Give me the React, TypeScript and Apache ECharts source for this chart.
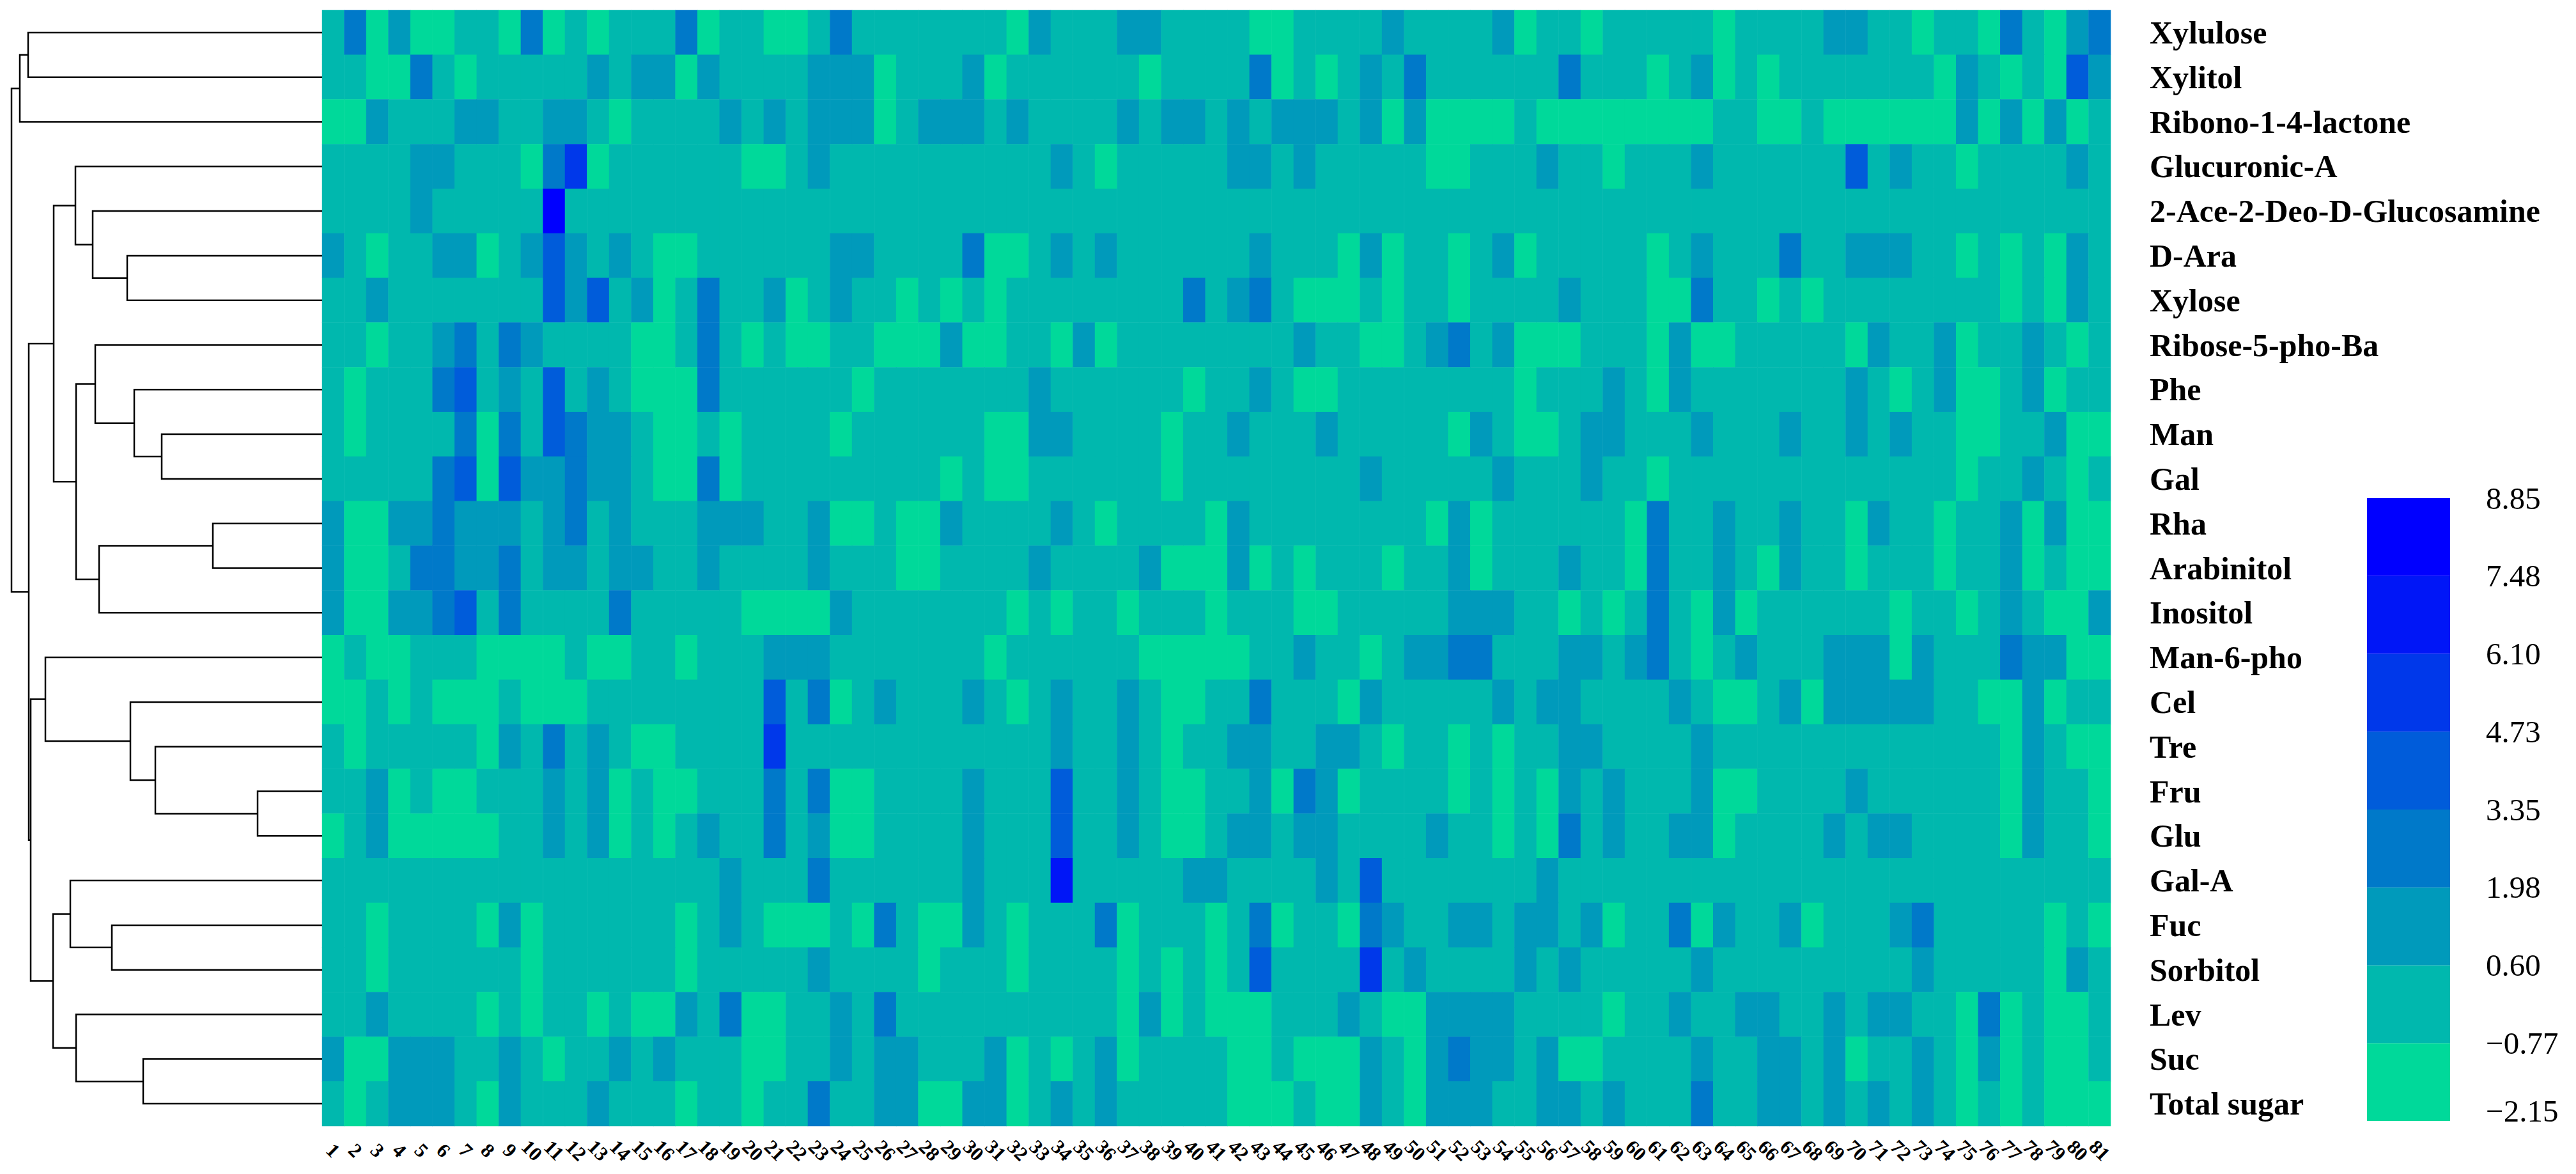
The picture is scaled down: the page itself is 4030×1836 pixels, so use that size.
import React, { useEffect, useRef } from "react";
import * as echarts from "echarts";

// Row names, top to bottom
const rowNames = [
  "Xylulose", "Xylitol", "Ribono-1-4-lactone", "Glucuronic-A", "2-Ace-2-Deo-D-Glucosamine",
  "D-Ara", "Xylose", "Ribose-5-pho-Ba", "Phe", "Man", "Gal", "Rha", "Arabinitol", "Inositol",
  "Man-6-pho", "Cel", "Tre", "Fru", "Glu", "Gal-A", "Fuc", "Sorbitol", "Lev", "Suc", "Total sugar",
];
const columnNames = Array.from({ length: 81 }, (_, i) => String(i + 1));

// Colour-scale edges as printed on the legend, low to high, and the colour of each band
const legendTicks = ["−2.15", "−0.77", "0.60", "1.98", "3.35", "4.73", "6.10", "7.48", "8.85"];
const binEdges = [-2.15, -0.77, 0.6, 1.98, 3.35, 4.73, 6.1, 7.48, 8.85];
const binColors = ["#00D99A", "#00B8AE", "#009ABB", "#0079C9", "#005CDA", "#0038EA", "#0016F7", "#0000FF"];

// Band for each cell: one string per row, columns 1-81
const cellBins = [
  "1302001103 0101113011 0013111111 1021112211 1100111121 1112011011 1110111122 1101103102 3",
  "1100310111 1121220211 1122201112 0111111011 1130101213 1111113111 0120101111 1110210104 2",
  "0021112211 2210111121 2122201222 1211112122 1212221202 0000100000 0001100100 0000202020 1",
  "1111221110 3501111110 0121111111 1112101111 1221211111 0011121101 1121111114 1211011112 1",
  "1111211111 7111111111 1111111111 1111111111 1111111111 1111111111 1111111111 1111111111 1",
  "2101122012 4212100111 1112211113 0012121111 1121110201 1012011111 0121113112 2211010102 1",
  "1121111111 4241201311 2012110101 0111111113 1231000101 1011112111 0031101011 1111110102 1",
  "1101123132 1111001310 1001100020 0110201111 1111211001 2312000111 0200111110 2112011210 1",
  "1011134121 4121000311 1111011111 1121111110 1121001111 1111011121 0211111112 1012001201 1",
  "1011113031 4322100101 1110111111 0022111101 1211121111 1021001221 1121112112 1211001120 0",
  "1111134042 2322100301 1111111101 0011111101 1111111211 1112111211 0111111111 1111011210 1",
  "2002232221 2312111222 1120010021 1112101111 0211111111 0201111110 3112112110 2110112020 0",
  "2001332231 2212211211 1121110011 1121111200 0201011101 1201112110 3112102110 1110112010 0",
  "2002234131 1113111110 0002111111 1010110111 0111001111 1222110101 3102011111 1011012100 2",
  "0100111000 0100110111 2221111111 0111111000 0011211012 2331112212 3101211122 2021113220 0",
  "0010100010 0011111111 4130121112 1012112100 1131110211 1112122111 1210012022 2221100201 1",
  "1011111021 3121001111 5111111111 1112112101 1221122101 1010112211 1121111111 1111110210 0",
  "1120100111 2120100111 3130011112 1114112100 1120320111 1010102121 1120011112 1111110211 0",
  "0120000011 2120101211 3120011112 1114112100 1221221111 2110103121 1220111121 2211110211 0",
  "1111111111 1111111121 1131111112 1116111112 2111121411 1111121111 1111111111 1111111111 1",
  "1101111020 1111110121 0001031002 1011130111 0130110321 1221221201 1302112011 1231111101 0",
  "1101111110 1111110111 1121111011 1011110101 0141111512 1111212111 1121111111 1121111102 1",
  "1121111010 1101002130 0112131111 1111110201 0001112100 2222111101 1211221121 2211030100 1",
  "2002221121 0112121110 0112122111 2010120111 1001000210 2322120011 1121122120 1121020100 1",
  "1012221021 1121110110 1131122002 2012121111 1000100210 2221122121 1131122121 2121010100 0",
];

// Row dendrogram: [distance, child A, child B]; ids below 25 are rows, ids from 25 are earlier merges
const dendroMerges: [number, number, number][] = [
  [460, 0, 1], [473, 25, 2], [305, 5, 6], [359, 4, 27], [386, 3, 28], [251, 9, 10],
  [294, 8, 30], [355, 7, 31], [171, 11, 12], [349, 33, 13], [385, 32, 34], [420, 29, 35],
  [101, 17, 18], [261, 16, 37], [300, 15, 38], [433, 14, 39], [329, 20, 21], [394, 19, 41],
  [280, 23, 24], [385, 22, 43], [421, 42, 44], [456, 40, 45], [459, 36, 46], [486, 26, 47],
];

const FONT = "Liberation Serif";

function buildHeatData() {
  const out: number[][] = [];
  cellBins.forEach((row, r) => {
    row.replace(/ /g, "").split("").forEach((ch, c) => {
      const b = Number(ch);
      out.push([c, r, (binEdges[b] + binEdges[b + 1]) / 2]);
    });
  });
  return out;
}

function buildDendroData() {
  const nodeY: number[] = rowNames.map((_, i) => i);
  const nodeD: number[] = rowNames.map(() => 0);
  return dendroMerges.map(([d, a, b]) => {
    const item = [d, nodeY[a], nodeD[a], nodeY[b], nodeD[b]];
    nodeY.push((nodeY[a] + nodeY[b]) / 2);
    nodeD.push(d);
    return item;
  });
}

export default function App() {
  const ref = useRef<HTMLDivElement>(null);
  useEffect(() => {
    const chart = echarts.init(ref.current!, null, { renderer: "svg" });
    chart.setOption({
      animation: false,
      backgroundColor: "#fff",
      textStyle: { fontFamily: FONT },
      grid: [
        { left: 504, top: 16, width: 2798, height: 1745 },
        { left: 0, top: 16, width: 504, height: 1745 },
        { left: 3703, top: 779, width: 130, height: 974 },
      ],
      xAxis: [
        {
          type: "category", gridIndex: 0, data: columnNames, position: "bottom",
          axisLine: { show: false }, axisTick: { show: false }, splitLine: { show: false },
          axisLabel: {
            interval: 0, rotate: -45, align: "center", verticalAlign: "middle", margin: 38,
            fontFamily: FONT, fontSize: 31, fontWeight: "bold", color: "#000", hideOverlap: false,
          },
        },
        { type: "value", gridIndex: 1, min: 0, max: 504, inverse: true, show: false },
        { type: "category", gridIndex: 2, data: ["scale"], show: false },
      ],
      yAxis: [
        {
          type: "category", gridIndex: 0, data: rowNames, inverse: true, position: "right",
          axisLine: { show: false }, axisTick: { show: false }, splitLine: { show: false },
          axisLabel: {
            interval: 0, margin: 61, fontFamily: FONT, fontSize: 50, fontWeight: "bold", color: "#000",
            align: "left",
          },
        },
        { type: "value", gridIndex: 1, min: -0.5, max: 24.5, inverse: true, show: false },
        {
          type: "value", gridIndex: 2, min: 0, max: 8, interval: 1, position: "right",
          axisLine: { show: false }, axisTick: { show: false }, splitLine: { show: false },
          axisLabel: {
            margin: 56, align: "left", fontFamily: FONT, fontSize: 49, color: "#000", lineHeight: 32,
            verticalAlignMinLabel: "bottom", showMinLabel: true, showMaxLabel: true,
            formatter: (v: number) => legendTicks[Math.round(v)],
          },
        },
      ],
      visualMap: {
        type: "piecewise", show: false, seriesIndex: 0, dimension: 2,
        pieces: binColors.map((color, i) => ({ min: binEdges[i], max: binEdges[i + 1], color })),
      },
      series: [
        {
          type: "heatmap", xAxisIndex: 0, yAxisIndex: 0, data: buildHeatData(),
          itemStyle: { borderWidth: 0 }, progressive: 0, silent: true,
        },
        {
          type: "custom", xAxisIndex: 1, yAxisIndex: 1, coordinateSystem: "cartesian2d", silent: true,
          clip: false, data: buildDendroData(),
          encode: { x: 0, y: 1 },
          renderItem: (_p: any, api: any) => {
            const d = api.value(0), yA = api.value(1), dA = api.value(2), yB = api.value(3), dB = api.value(4);
            return {
              type: "polyline",
              shape: { points: [api.coord([dA, yA]), api.coord([d, yA]), api.coord([d, yB]), api.coord([dB, yB])] },
              style: { stroke: "#000", lineWidth: 2.5, fill: "none" },
            };
          },
        },
        ...binColors.map((color) => ({
          type: "bar", xAxisIndex: 2, yAxisIndex: 2, stack: "scale", barWidth: "100%", silent: true,
          data: [1], itemStyle: { color },
        })),
      ],
    });
    return () => chart.dispose();
  }, []);
  return <div ref={ref} style={{ position: "fixed", left: 0, top: 0, width: 4030, height: 1836 }} />;
}
